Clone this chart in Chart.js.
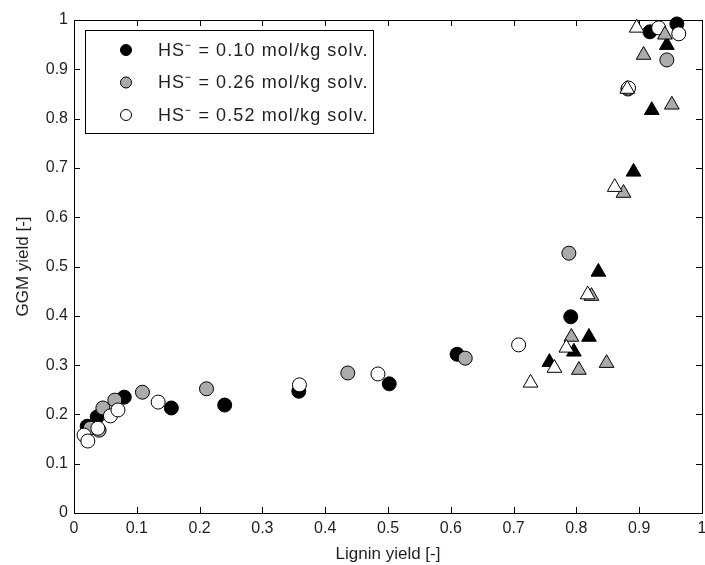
<!DOCTYPE html>
<html><head><meta charset="utf-8">
<script src="https://cdn.jsdelivr.net/npm/chart.js@4/dist/chart.umd.min.js"></script>
<style>html,body{margin:0;padding:0;background:#fff}</style>
</head><body>
<canvas id="c" width="705" height="565"></canvas>
<script>
// ---- data ----
const xTickValues = [0,0.1,0.2,0.3,0.4,0.5,0.6,0.7,0.8,0.9,1];
const xTickLabels = ['0','0.1','0.2','0.3','0.4','0.5','0.6','0.7','0.8','0.9','1'];
const yTickValues = [0,0.1,0.2,0.3,0.4,0.5,0.6,0.7,0.8,0.9,1];
const yTickLabels = ['0','0.1','0.2','0.3','0.4','0.5','0.6','0.7','0.8','0.9','1'];

const seriesNames = ['HS\u207B = 0.10 mol/kg solv.','HS\u207B = 0.26 mol/kg solv.','HS\u207B = 0.52 mol/kg solv.'];

// circles
const c010X = [0.021,0.037,0.080,0.155,0.240,0.358,0.502,0.610,0.791,0.917,0.960];
const c010Y = [0.176,0.195,0.235,0.213,0.219,0.247,0.262,0.322,0.398,0.976,0.992];
const c026X = [0.026,0.040,0.046,0.065,0.109,0.211,0.436,0.623,0.788,0.882,0.944];
const c026Y = [0.172,0.168,0.213,0.229,0.245,0.252,0.284,0.314,0.527,0.860,0.919];
const c052X = [0.016,0.022,0.038,0.058,0.070,0.134,0.359,0.484,0.708,0.883,0.931,0.963];
const c052Y = [0.158,0.146,0.172,0.197,0.209,0.225,0.260,0.282,0.341,0.862,0.984,0.972];
// triangles
const t010X = [0.757,0.796,0.820,0.835,0.891,0.920,0.944];
const t010Y = [0.306,0.327,0.357,0.489,0.692,0.817,0.949];
const t026X = [0.792,0.804,0.848,0.824,0.875,0.952,0.907,0.941];
const t026Y = [0.357,0.290,0.304,0.440,0.649,0.828,0.929,0.970];
const t052X = [0.727,0.765,0.784,0.818,0.861,0.881,0.896];
const t052Y = [0.264,0.294,0.335,0.443,0.661,0.860,0.984];

const zip = (xs, ys) => xs.map((x, i) => ({x, y: ys[i]}));
const FILL = ['#000000', '#ababab', '#ffffff'];
const FONT = 'Liberation Sans, Arial, sans-serif';
const TXT = '#1e1e2a';
const NOPAD = () => ({left: 0, right: 0, top: 0, bottom: 0});

function ds(label, xs, ys, fill, shape, order, inLegend) {
  return {
    label, data: zip(xs, ys), pointStyle: shape,
    pointRadius: shape === 'circle' ? 7 : 8.5,
    pointBackgroundColor: fill, pointBorderColor: '#000', pointBorderWidth: 1,
    showLine: false, clip: false, order, inLegend
  };
}

const datasets = [
  ds(seriesNames[0], c010X, c010Y, FILL[0], 'circle', 6, true),
  ds(seriesNames[1], c026X, c026Y, FILL[1], 'circle', 5, true),
  ds(seriesNames[2], c052X, c052Y, FILL[2], 'circle', 4, true),
  ds('tri 0.10', t010X, t010Y, FILL[0], 'triangle', 3, false),
  ds('tri 0.26', t026X, t026Y, FILL[1], 'triangle', 2, false),
  ds('tri 0.52', t052X, t052Y, FILL[2], 'triangle', 1, false)
];

const frameTicks = {
  id: 'frameTicks',
  beforeDatasetsDraw(chart) {
    const {ctx, chartArea: a, scales: {x, y}} = chart;
    ctx.save();
    ctx.strokeStyle = '#000'; ctx.lineWidth = 1;
    ctx.beginPath();
    const L = 6;
    xTickValues.forEach(v => {
      const px = Math.round(x.getPixelForValue(v)) + 0.5;
      ctx.moveTo(px, a.bottom); ctx.lineTo(px, a.bottom - L);
      ctx.moveTo(px, a.top); ctx.lineTo(px, a.top + L);
    });
    yTickValues.forEach(v => {
      const py = Math.round(y.getPixelForValue(v)) + 0.5;
      ctx.moveTo(a.left, py); ctx.lineTo(a.left + L, py);
      ctx.moveTo(a.right, py); ctx.lineTo(a.right - L, py);
    });
    ctx.stroke();
    ctx.strokeRect(Math.round(a.left) + 0.5, Math.round(a.top) + 0.5, Math.round(a.right - a.left), Math.round(a.bottom - a.top));
    ctx.restore();
  }
};

const boxLegend = {
  id: 'boxLegend',
  afterDraw(chart) {
    const {ctx} = chart;
    const bx = 85, by = 30, bw = 288, bh = 103;
    ctx.save();
    ctx.fillStyle = '#fff'; ctx.fillRect(bx, by, bw, bh);
    ctx.strokeStyle = '#000'; ctx.lineWidth = 1;
    ctx.strokeRect(bx + 0.5, by + 0.5, bw, bh);
    const items = chart.data.datasets.filter(d => d.inLegend);
    items.forEach((d, i) => {
      const cy = by + 20 + i * 32.5;
      ctx.beginPath();
      ctx.arc(bx + 41, cy, 5.5, 0, Math.PI * 2);
      ctx.fillStyle = d.pointBackgroundColor; ctx.fill();
      ctx.strokeStyle = '#000'; ctx.stroke();
      ctx.fillStyle = TXT;
      ctx.font = '18px ' + FONT;
      ctx.letterSpacing = '1.1px';
      ctx.textBaseline = 'middle'; ctx.textAlign = 'left';
      ctx.fillText(d.label, bx + 73, cy + 1);
    });
    ctx.restore();
  }
};

new Chart(document.getElementById('c'), {
  type: 'scatter',
  data: { datasets },
  options: {
    responsive: false, animation: false,
    layout: { autoPadding: false, padding: { left: 0, right: 3, top: 20, bottom: 0 } },
    plugins: { legend: { display: false }, tooltip: { enabled: false } },
    scales: {
      x: {
        type: 'linear', min: 0, max: 1,
        afterBuildTicks: s => { s.ticks = xTickValues.map(v => ({value: v})); },
        afterFit: s => { s.height = 52; s.paddingLeft = 0; s.paddingRight = 0; s.getPadding = NOPAD; },
        ticks: { callback: (v, i) => xTickLabels[i], color: TXT, font: { family: FONT, size: 16 }, padding: 6, maxRotation: 0, autoSkip: false },
        grid: { display: false, drawTicks: false },
        border: { display: false },
        title: { display: true, text: 'Lignin yield [-]', color: TXT, font: { family: FONT, size: 17 }, padding: { top: 0, bottom: 0 } }
      },
      y: {
        type: 'linear', min: 0, max: 1,
        afterBuildTicks: s => { s.ticks = yTickValues.map(v => ({value: v})); },
        afterFit: s => { s.width = 74; s.paddingTop = 0; s.paddingBottom = 0; s.getPadding = NOPAD; },
        ticks: { callback: (v, i) => yTickLabels[i], color: TXT, font: { family: FONT, size: 16 }, padding: 6, autoSkip: false },
        grid: { display: false, drawTicks: false },
        border: { display: false },
        title: { display: true, text: 'GGM yield [-]', color: TXT, font: { family: FONT, size: 17 }, padding: { top: 13, bottom: 0 } }
      }
    }
  },
  plugins: [frameTicks, boxLegend]
});
</script>
</body></html>
